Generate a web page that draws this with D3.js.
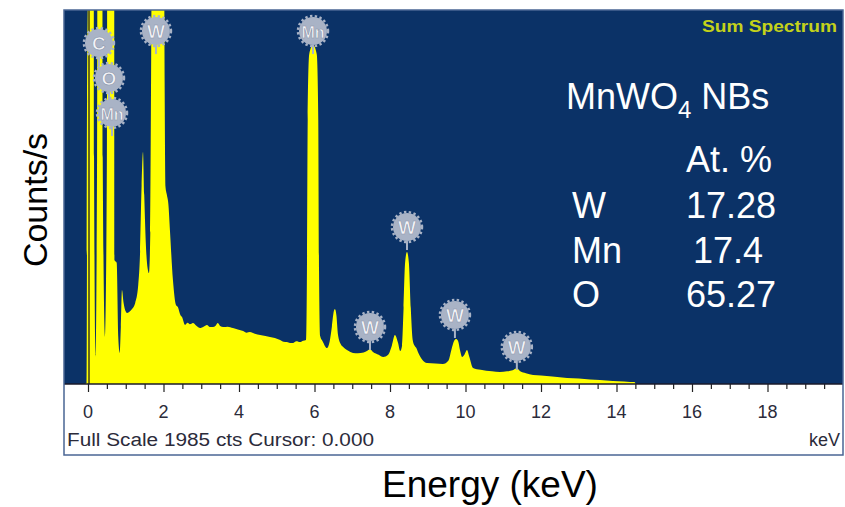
<!DOCTYPE html>
<html lang="en">
	<head>
		<meta charset="utf-8">
		<title>EDS spectrum MnWO4 NBs</title>
		<script type="text/javascript" src="https://cdn.jsdelivr.net/npm/d3@7"></script>
		<style type="text/css">
			body { margin: 0; background: #fff; }
			text { font-family: Arial, "Liberation Sans", sans-serif; }
		</style>
	</head>
	<body>
		<script type="text/javascript">
			// spectrum (keV, counts)
			var energy = [-0.06, -0.03, -0.025, 0.02, 0.06, 0.14, 0.16, 0.20, 0.24, 0.26, 0.37, 0.39, 0.45, 0.50, 0.52, 0.69,
				0.70, 0.76, 0.80, 0.84, 0.87, 0.90, 0.94, 1.00, 1.03, 1.15, 1.25, 1.33, 1.38, 1.42, 1.457, 1.49, 1.53, 1.58,
				1.616, 1.65, 1.69, 1.72, 1.99, 2.03, 2.05, 2.09, 2.13, 2.17, 2.25, 2.33, 2.38, 2.45, 2.49, 2.57, 2.64, 2.70,
				2.78, 2.87, 2.97, 3.06, 3.15, 3.23, 3.31, 3.38, 3.44, 3.50, 3.58, 3.70, 3.84, 3.97, 4.11, 4.20, 4.29, 4.42,
				4.56, 4.70, 4.82, 4.95, 5.09, 5.18, 5.27, 5.35, 5.43, 5.52, 5.62, 5.70, 5.775, 5.80, 5.82, 5.86, 5.96, 6.06,
				6.10, 6.12, 6.15, 6.22, 6.33, 6.40, 6.46, 6.51, 6.54, 6.58, 6.62, 6.70, 6.76, 6.86, 6.95, 7.02, 7.15, 7.30,
				7.40, 7.47, 7.55, 7.70, 7.82, 7.95, 8.05, 8.13, 8.21, 8.27, 8.32, 8.36, 8.40, 8.45, 8.50, 8.55, 8.60, 8.66,
				8.70, 8.74, 8.85, 8.98, 9.20, 9.40, 9.55, 9.63, 9.70, 9.75, 9.80, 9.86, 9.91, 9.97, 10.04, 10.10, 10.20,
				10.40, 10.70, 10.91, 11.10, 11.25, 11.36, 11.45, 11.60, 11.79, 12.00, 12.30, 12.69, 13.00, 13.30, 13.56,
				13.90, 14.20, 14.36, 14.47, 14.50];
			var counts = [0, 0, 1500, 2500, 4000, 4000, 1200, 140, 1200, 4000, 4000, 1200, 245, 1200, 4000, 4000,
				655, 640, 250, 160, 300, 495, 430, 380, 373, 390, 426, 520, 700, 1050, 1229, 1000, 750, 610,
				585, 800, 2500, 4000, 4000, 1600, 1050, 1000, 950, 814, 548, 415, 404, 360, 351, 309, 320, 312,
				319, 305, 293, 300, 309, 298, 298, 305, 319, 303, 298, 300, 293, 285, 277, 268, 271, 262,
				255, 250, 245, 240, 229, 220, 218, 213, 213, 222, 218, 225, 229, 600, 1400, 1750, 1799, 1750,
				1400, 600, 250, 220, 186, 220, 300, 380, 394, 360, 260, 205, 192, 175, 165, 160, 158, 162,
				172, 180, 165, 150, 138, 150, 200, 255, 215, 170, 200, 400, 640, 697, 640, 400, 230, 195,
				185, 165, 125, 106, 104, 101, 120, 180, 225, 234, 225, 170, 138, 150, 176, 140, 80,
				70, 62, 59, 62, 68, 78, 62, 52, 43, 40, 35, 27, 24, 19, 16,
				10, 8, 5, 5, 0];

			var tickLabels = [0, 2, 4, 6, 8, 10, 12, 14, 16, 18];

			// element markers: name, energy (keV), height of the marker (counts)
			var markNames = ["C", "O", "Mn", "W", "Mn", "W", "W", "W", "W"];
			var markEnergy = [0.29, 0.556, 0.636, 1.80, 5.96, 8.45, 7.47, 9.72, 11.36];
			var markCounts = [1809, 1623, 1437, 1873, 1873, 830, 298, 362, 192];

			var elements = ["W", "Mn", "O"];
			var atPercent = ["17.28", "17.4", "65.27"];

			var w = 845;
			var h = 507;

			var panel = {left: 64, top: 10, right: 843, bottom: 455};
			var base = 383;

			var xScale = d3.scaleLinear().domain([0, 20]).range([88, 843]);
			var yScale = d3.scaleLinear().domain([0, 1985]).range([base, panel.top]);

			var svg = d3.select("body").append("svg")
				.attr("width", w)
				.attr("height", h);

			// white frame and blue plot area
			svg.append("rect")
				.attr("x", panel.left).attr("y", panel.top)
				.attr("width", panel.right - panel.left).attr("height", panel.bottom - panel.top)
				.attr("fill", "#fff");
			svg.append("rect")
				.attr("x", panel.left).attr("y", panel.top)
				.attr("width", panel.right - panel.left).attr("height", base + 1 - panel.top)
				.attr("fill", "#0b3267");

			svg.append("clipPath").attr("id", "clip")
				.append("rect")
				.attr("x", panel.left).attr("y", panel.top)
				.attr("width", panel.right - panel.left).attr("height", base + 1 - panel.top);

			var pts = energy.map(function(e, i) { return [e, counts[i]]; });

			var area = d3.area()
				.x(function(d) { return xScale(d[0]); })
				.y0(base + 1)
				.y1(function(d) { return yScale(d[1]); })
				.curve(d3.curveMonotoneX);

			svg.append("path")
				.datum(pts)
				.attr("clip-path", "url(#clip)")
				.attr("fill", "#ffff00")
				.attr("d", area);

			// cursor line at 0.000
			svg.append("line")
				.attr("x1", xScale(0) + 1).attr("x2", xScale(0) + 1)
				.attr("y1", panel.top).attr("y2", base + 1)
				.attr("stroke", "#3d3d1c")
				.attr("stroke-width", 1.5);

			// x axis
			var xAxis = d3.axisBottom(xScale)
				.tickValues(d3.range(0, 20, 0.5))
				.tickSize(5)
				.tickFormat("");
			var gx = svg.append("g")
				.attr("transform", "translate(0," + (base + 1) + ")")
				.call(xAxis);
			gx.select(".domain").remove();
			gx.selectAll(".tick line")
				.attr("stroke", "#222")
				.attr("stroke-width", 1.2)
				.attr("y2", function(d) { return d % 2 === 0 ? 8 : 5; });

			svg.append("line")
				.attr("x1", panel.left).attr("x2", panel.right)
				.attr("y1", base + 1).attr("y2", base + 1)
				.attr("stroke", "#1a1a2a").attr("stroke-width", 1.5);

			svg.selectAll("text.tl")
				.data(tickLabels)
				.enter().append("text")
				.attr("class", "tl")
				.attr("x", function(d) { return xScale(d); })
				.attr("y", 418)
				.attr("text-anchor", "middle")
				.attr("font-size", "18px")
				.attr("fill", "#2b2b3a")
				.text(function(d) { return d; });

			svg.append("text")
				.attr("x", 67).attr("y", 446)
				.attr("font-size", "18px")
				.attr("textLength", 307)
				.attr("lengthAdjust", "spacingAndGlyphs")
				.attr("fill", "#2b2b3a")
				.text("Full Scale 1985 cts Cursor: 0.000");

			svg.append("text")
				.attr("x", 840).attr("y", 446)
				.attr("text-anchor", "end")
				.attr("font-size", "18px")
				.attr("fill", "#2b2b3a")
				.text("keV");

			// frame border
			svg.append("rect")
				.attr("x", panel.left).attr("y", panel.top)
				.attr("width", panel.right - panel.left).attr("height", panel.bottom - panel.top)
				.attr("fill", "none")
				.attr("stroke", "#4a6594")
				.attr("stroke-width", 1.5);

			// element markers
			var r = 14;
			var marks = svg.selectAll("g.mark")
				.data(markNames)
				.enter().append("g")
				.attr("class", "mark")
				.attr("transform", function(d, i) {
					return "translate(" + xScale(markEnergy[i]) + "," + yScale(markCounts[i]) + ")";
				});
			marks.append("line")
				.attr("x1", 0).attr("x2", 0)
				.attr("y1", r).attr("y2", r + 9)
				.attr("stroke", "#a9b3c6").attr("stroke-width", 2);
			marks.append("circle")
				.attr("r", r)
				.attr("fill", "#a9b3c6");
			marks.append("circle")
				.attr("r", r + 1)
				.attr("fill", "none")
				.attr("stroke", "#a9b3c6")
				.attr("stroke-width", 2.5)
				.attr("stroke-dasharray", "2.4,2.4");
			marks.append("text")
				.attr("y", 7)
				.attr("text-anchor", "middle")
				.attr("font-size", function(d) { return d === "Mn" ? "16px" : "19px"; })
				.attr("font-weight", "bold")
				.attr("fill", "#f4f4f8")
				.attr("stroke", "#8d97ab")
				.attr("stroke-width", 0.6)
				.text(function(d) { return d; });

			// titles inside the plot
			svg.append("text")
				.attr("x", 837).attr("y", 32)
				.attr("text-anchor", "end")
				.attr("font-size", "16px")
				.attr("font-weight", "bold")
				.attr("textLength", 135)
				.attr("lengthAdjust", "spacingAndGlyphs")
				.attr("fill", "#c4d21a")
				.text("Sum Spectrum");

			var title = svg.append("text")
				.attr("x", 566).attr("y", 109)
				.attr("font-size", "36px")
				.attr("fill", "#fff");
			title.append("tspan").text("MnWO");
			title.append("tspan").attr("font-size", "24px").attr("dy", 9).text("4");
			title.append("tspan").attr("dy", -9).text(" NBs");

			svg.append("text")
				.attr("x", 686).attr("y", 172)
				.attr("font-size", "36px")
				.attr("fill", "#fff")
				.text("At. %");

			var rowY = [218, 263, 307];
			var valX = [686, 693, 686];
			elements.forEach(function(el, i) {
				svg.append("text")
					.attr("x", 572).attr("y", rowY[i])
					.attr("font-size", "36px").attr("fill", "#fff")
					.text(el);
				svg.append("text")
					.attr("x", valX[i]).attr("y", rowY[i])
					.attr("font-size", "36px").attr("fill", "#fff")
					.text(atPercent[i]);
			});

			// axis titles
			svg.append("text")
				.attr("transform", "translate(47,200) rotate(-90)")
				.attr("text-anchor", "middle")
				.attr("font-size", "34px")
				.attr("fill", "#000")
				.text("Counts/s");

			svg.append("text")
				.attr("x", 490).attr("y", 497)
				.attr("text-anchor", "middle")
				.attr("font-size", "37px")
				.attr("fill", "#000")
				.text("Energy (keV)");
		</script>
	</body>
</html>
